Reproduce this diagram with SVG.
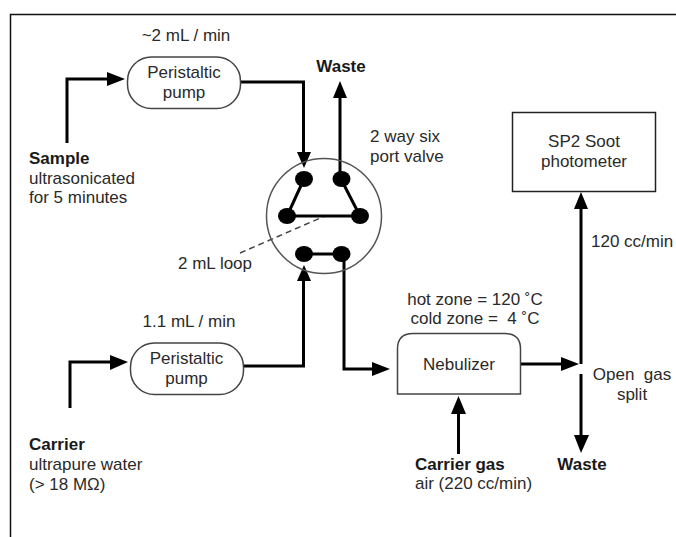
<svg xmlns="http://www.w3.org/2000/svg" width="676" height="537" viewBox="0 0 676 537">
<defs>
<style>
text{font-family:"Liberation Sans",Arial,sans-serif;font-size:17px;fill:#2a2a2a;white-space:pre}
.b{font-weight:bold;fill:#1a1a1a}
.m{text-anchor:middle}
.n{fill:#fff;stroke:#444;stroke-width:1.5}
.c{fill:none;stroke:#000;stroke-width:3}
.a{fill:#000;stroke:none}
.d{fill:#000;stroke:none}
</style>
</defs>
<rect width="676" height="537" fill="#fff"/>
<path d="M676 14.500H10.500V537" fill="none" stroke="#111" stroke-width="1.500"/>
<g id="connectors">
<path class="c" d="M67 143V79H110"/><polygon class="a" points="107,72 125,79 107,86"/>
<path class="c" d="M241 82H303.500V155"/><polygon class="a" points="297,152 311,152 304,168"/>
<path class="c" d="M340 178V95"/><polygon class="a" points="333,98 347,98 340,81"/>
<path class="c" d="M70 408V362H112"/><polygon class="a" points="110,355 128,362 110,370"/>
<path class="c" d="M244 366H303.500V278"/><polygon class="a" points="297,281 311,281 304,265"/>
<path class="c" d="M344 254V369H375"/><polygon class="a" points="372,362 390,369 372,376"/>
<path class="c" d="M520 364H565"/><polygon class="a" points="561,357 579,364 561,371"/>
<path class="c" d="M581 364V206"/><polygon class="a" points="574,209 588,209 581,192"/>
<path class="c" d="M581 374V438"/><polygon class="a" points="574,435 589,435 581,453"/>
<path class="c" d="M458.500 454V412"/><polygon class="a" points="451,414 466,414 458.500,396"/>
<path fill="none" stroke="#444" stroke-width="1.500" stroke-dasharray="6 4" d="M240 253L325 216"/>
</g>
<g id="valve">
<circle cx="324" cy="216" r="57.500" fill="none" stroke="#555" stroke-width="1.500"/>
<path class="c" d="M304 179L287 216H360L341 179M304 254H342"/>
<ellipse class="d" cx="304" cy="179" rx="9" ry="8"/>
<ellipse class="d" cx="341.500" cy="179" rx="9" ry="8"/>
<ellipse class="d" cx="287" cy="216" rx="9" ry="8"/>
<ellipse class="d" cx="360" cy="216" rx="9" ry="8"/>
<ellipse class="d" cx="304" cy="254" rx="9" ry="8"/>
<ellipse class="d" cx="341.500" cy="254" rx="9" ry="8"/>
</g>
<g id="pump1">
<rect class="n" x="127.500" y="57" width="113" height="51.500" rx="24"/>
<text class="m" x="184" y="78">Peristaltic</text><text class="m" x="184" y="98">pump</text>
</g>
<g id="pump2">
<rect class="n" x="130.500" y="343" width="113" height="51.500" rx="24"/>
<text class="m" x="186.500" y="364">Peristaltic</text><text class="m" x="186.500" y="384">pump</text>
</g>
<g id="nebulizer">
<path class="n" d="M397.500 394V349Q397.500 333.500 413 333.500H505Q520.500 333.500 520.500 349V394Z"/>
<text class="m" x="459" y="370">Nebulizer</text>
</g>
<g id="sp2">
<rect x="512.500" y="112.500" width="143" height="79" fill="#fff" stroke="#222" stroke-width="1.500"/>
<text class="m" x="584" y="147">SP2 Soot</text><text class="m" x="584" y="167">photometer</text>
</g>
<g id="labels">
<text class="m" x="186" y="41">~2 mL / min</text>
<text class="m" x="189" y="327">1.1 mL / min</text>
<text class="b" x="29" y="164">Sample</text><text x="29" y="184">ultrasonicated</text><text x="29" y="203">for 5 minutes</text>
<text class="b" x="29" y="450">Carrier</text><text x="29" y="470">ultrapure water</text><text x="29" y="490">(&gt; 18 MΩ)</text>
<text class="b m" x="341" y="72">Waste</text>
<text x="370" y="142">2 way six</text><text x="370" y="162">port valve</text>
<text x="178" y="269">2 mL loop</text>
<text x="591" y="247">120 cc/min</text>
<text class="m" x="475" y="305">hot zone = 120 ˚C</text><text class="m" x="475" y="324">cold zone =  4 ˚C</text>
<text class="m" x="632" y="380">Open  gas</text><text class="m" x="632" y="400">split</text>
<text class="b" x="415" y="470">Carrier gas</text><text x="415" y="489">air (220 cc/min)</text>
<text class="b m" x="582" y="470">Waste</text>
</g>
</svg>
